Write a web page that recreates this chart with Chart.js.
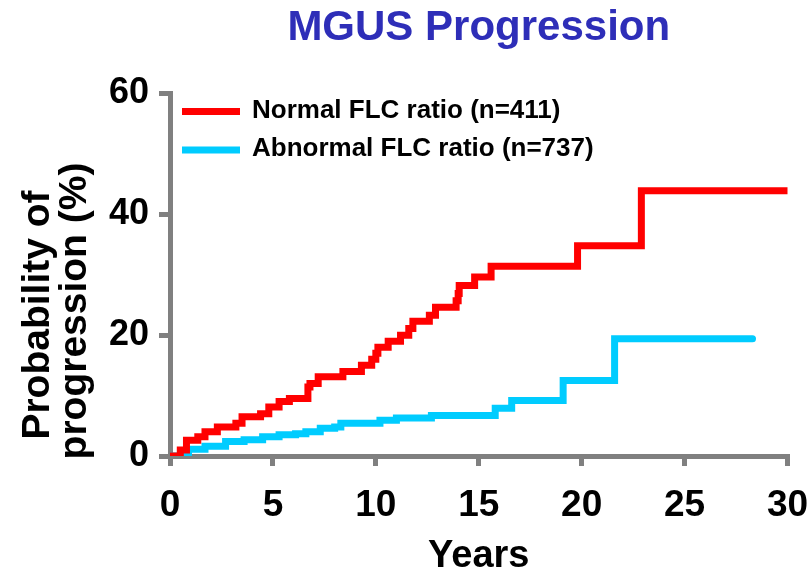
<!DOCTYPE html>
<html><head><meta charset="utf-8">
<script src="https://cdn.jsdelivr.net/npm/chart.js@4"></script>
<style>html,body{margin:0;padding:0;background:#fff}</style>
</head><body>
<canvas id="c" width="809" height="576"></canvas>
<script>
const chartTitle = 'MGUS Progression';
const seriesLabels = ['Normal FLC ratio (n=411)', 'Abnormal FLC ratio (n=737)'];
const xTitle = 'Years';
const yTitleLines = ['Probability of', 'progression (%)'];
const xTicks = [0, 5, 10, 15, 20, 25, 30];
const yTicks = [0, 20, 40, 60];

// Normal FLC ratio: years at each step, cumulative % progression
const normalYears = [0, 0.5, 0.8, 1.35, 1.7, 2.3, 3.2, 3.5, 4.4, 4.8, 5.3, 5.8, 6.7, 6.8, 7.2, 8.4, 9.3, 9.8, 10.0, 10.1, 10.6, 11.2, 11.6, 11.8, 12.6, 12.9, 13.9, 14.0, 14.05, 14.8, 15.6, 19.8, 22.9, 30.0];
const normalPct   = [0, 1.0, 2.6, 3.2, 4.0, 4.8, 5.4, 6.5, 7.0, 8.1, 9.0, 9.5, 11.4, 12.0, 13.1, 14.0, 15.0, 16.0, 17.0, 18.0, 19.0, 20.0, 21.1, 22.3, 23.3, 24.6, 25.7, 26.9, 28.2, 29.6, 31.4, 34.8, 43.9, 43.9];

// Abnormal FLC ratio
const abnormalYears = [0, 0.9, 1.7, 2.7, 3.6, 4.5, 5.3, 6.1, 6.6, 7.3, 8.0, 8.3, 10.2, 11.0, 12.7, 15.8, 16.6, 19.1, 21.6, 28.3];
const abnormalPct   = [0, 1.1, 1.6, 2.4, 2.7, 3.2, 3.5, 3.7, 4.0, 4.6, 4.8, 5.4, 5.9, 6.3, 6.7, 7.9, 9.2, 12.5, 19.4, 19.4];

const FAMILY = '"Liberation Sans", Arial, Helvetica, sans-serif';
const toPts = (xs, ys) => xs.map((x, i) => ({x: x, y: ys[i]}));

const overlay = {
  id: 'overlay',
  afterDraw(chart) {
    const ctx = chart.ctx;
    ctx.save();
    // legend
    const ys = [111.5, 150];
    chart.data.datasets.forEach((ds, i) => {
      ctx.strokeStyle = ds.borderColor;
      ctx.lineWidth = 7;
      ctx.lineCap = 'butt';
      ctx.beginPath();
      ctx.moveTo(182, ys[i]);
      ctx.lineTo(240, ys[i]);
      ctx.stroke();
      ctx.fillStyle = '#000';
      ctx.font = 'bold 26px ' + FAMILY;
      ctx.textAlign = 'left';
      ctx.textBaseline = 'middle';
      ctx.fillText(ds.label, 252, ys[i] - 1);
    });
    // y-axis title (two lines, rotated)
    ctx.font = 'bold 39px ' + FAMILY;
    ctx.fillStyle = '#000';
    ctx.textAlign = 'center';
    ctx.textBaseline = 'middle';
    const cx = [38, 75], cy = [315, 311];
    yTitleLines.forEach((t, i) => {
      ctx.save();
      ctx.translate(cx[i], cy[i]);
      ctx.rotate(-Math.PI / 2);
      ctx.fillText(t, 0, 0);
      ctx.restore();
    });
    ctx.restore();
  }
};

new Chart(document.getElementById('c').getContext('2d'), {
  type: 'line',
  data: {
    datasets: [
      {label: seriesLabels[0], data: toPts(normalYears, normalPct), borderColor: '#ff0000',
       backgroundColor: '#ff0000', borderWidth: 7, stepped: true, pointRadius: 0, fill: false,
       borderCapStyle: 'round', borderJoinStyle: 'miter'},
      {label: seriesLabels[1], data: toPts(abnormalYears, abnormalPct), borderColor: '#00ccff',
       backgroundColor: '#00ccff', borderWidth: 7, stepped: true, pointRadius: 0, fill: false,
       borderCapStyle: 'round', borderJoinStyle: 'miter'}
    ]
  },
  options: {
    responsive: false,
    animation: false,
    layout: {padding: {right: 21.5, top: 0, left: 0, bottom: 0}},
    plugins: {
      legend: {display: false},
      tooltip: {enabled: false},
      title: {display: true, text: chartTitle, fullSize: false, color: '#2e2eb8',
              font: {family: FAMILY, size: 42, weight: 'bold'}, padding: {top: 3, bottom: 40}}
    },
    scales: {
      x: {
        type: 'linear', min: xTicks[0], max: xTicks[xTicks.length - 1],
        afterBuildTicks(s) { s.ticks = xTicks.map(v => ({value: v})); },
        ticks: {color: '#000', font: {family: FAMILY, size: 37, weight: 'bold'}, padding: 18,
                maxRotation: 0, callback: v => String(v)},
        grid: {drawOnChartArea: false, drawTicks: true, color: '#808080', lineWidth: 5, tickLength: 10},
        border: {color: '#808080', width: 5},
        title: {display: true, text: xTitle, color: '#000',
                font: {family: FAMILY, size: 38, weight: 'bold', lineHeight: 1.0}, padding: {top: 0, bottom: 0}},
        afterFit(s) { s.height = 120; s.paddingLeft = 0; s.paddingRight = 0; }
      },
      y: {
        type: 'linear', min: yTicks[0], max: yTicks[yTicks.length - 1],
        afterBuildTicks(s) { s.ticks = yTicks.map(v => ({value: v})); },
        ticks: {color: '#000', font: {family: FAMILY, size: 36, weight: 'bold'}, padding: 10,
                callback: v => String(v)},
        grid: {drawOnChartArea: false, drawTicks: true, color: '#808080', lineWidth: 5, tickLength: 11},
        border: {color: '#808080', width: 5},
        afterFit(s) { s.width = 170; s.paddingTop = 0; s.paddingBottom = 0; }
      }
    }
  },
  plugins: [overlay]
});
</script>
</body></html>
